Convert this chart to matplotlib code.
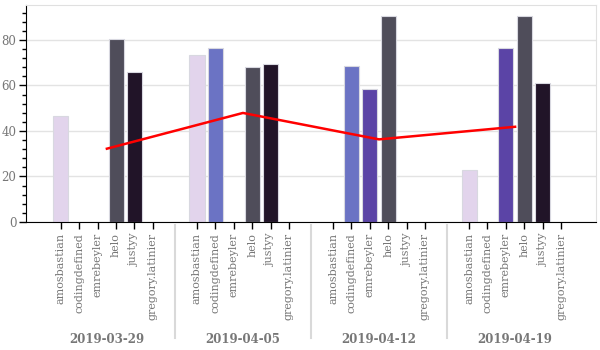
import numpy as np
import matplotlib
matplotlib.use("Agg")
import matplotlib.pyplot as plt
import matplotlib.transforms as mtransforms
from matplotlib.ticker import MultipleLocator

# data
dates = ["2019-03-29", "2019-04-05", "2019-04-12", "2019-04-19"]
users = ["amosbastian", "codingdefined", "emrebeyler", "helo", "justyy", "gregory.latinier"]
colors = ["#e2d4ec", "#6b73c4", "#5b44a6", "#4f4d5a", "#211428", "#9e9ac8"]

amosbastian = [46.6, 73.4, 0, 22.7]
codingdefined = [0, 76.5, 68.7, 0]
emrebeyler = [0, 0, 58.5, 76.6]
helo = [80.4, 68.0, 90.5, 90.5]
justyy = [66.1, 69.5, 0, 61.1]
gregory_latinier = [0, 0, 0, 0]

values = np.array([amosbastian, codingdefined, emrebeyler, helo, justyy, gregory_latinier])
# red line = average of each week over all six users
avg = values.mean(axis=0)

stride = 7.4
grey = "#777777"

fig = plt.figure(figsize=(6, 3.5), dpi=100)
ax = fig.add_axes([0.0433, 0.366, 0.95, 0.62])

ticks = []
labels = []
for g in range(len(dates)):
    for i in range(len(users)):
        x = g * stride + i
        ticks.append(x)
        labels.append(users[i])
        if values[i, g] > 0:
            ax.bar(x, values[i, g], width=0.82, color=colors[i],
                   edgecolor="#d8d8e0", linewidth=0.8, zorder=2)

centers = [g * stride + 2.5 for g in range(len(dates))]
ax.plot(centers, avg, color="red", linewidth=1.8, zorder=3)

ax.set_xlim(-1.9, 3 * stride + 5 + 1.9)
ax.set_ylim(0, 95.4)
ax.set_xticks(ticks)
ax.set_xticklabels(labels, rotation=90, family="DejaVu Serif", fontsize=8, color=grey)
ax.yaxis.set_major_locator(MultipleLocator(20))
ax.yaxis.set_minor_locator(MultipleLocator(4))
for t in ax.get_yticklabels():
    t.set_family("DejaVu Serif")
    t.set_fontsize(8.5)
    t.set_color(grey)
ax.tick_params(axis="x", length=5, width=1, color="black", pad=3)
ax.tick_params(axis="y", which="major", length=5, width=1, pad=2)
ax.tick_params(axis="y", which="minor", length=3, width=1)

ax.grid(axis="y", color="#e3e3e3", linewidth=1, zorder=0)
ax.set_axisbelow(True)
ax.spines["top"].set_color("#e0e0e0")
ax.spines["right"].set_color("#e0e0e0")
ax.spines["left"].set_color("black")
ax.spines["bottom"].set_color("black")

trans = mtransforms.blended_transform_factory(ax.transData, ax.transAxes)
for g in range(1, len(dates)):
    xs = g * stride - (stride - 5) / 2
    ax.plot([xs, xs], [-0.014, -0.535], transform=trans, color="#d9d9d9",
            linewidth=1.5, clip_on=False)
for g, d in enumerate(dates):
    ax.text(centers[g], -0.54, d, transform=trans, ha="center", va="center",
            family="DejaVu Serif", fontsize=8.5, fontweight="bold", color=grey)

fig.savefig("out.png", dpi=100)
